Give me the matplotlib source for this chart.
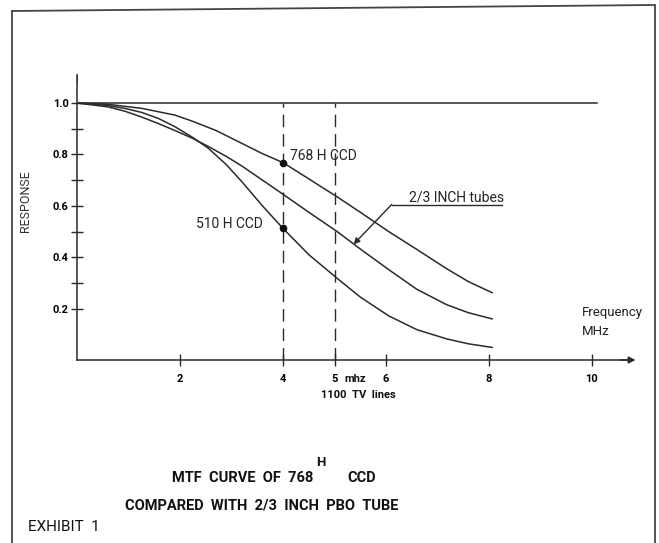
import matplotlib
matplotlib.use("Agg")
import matplotlib.pyplot as plt
from matplotlib.lines import Line2D
from matplotlib.ticker import FixedLocator

plt.rcParams['font.family'] = ['Roboto', 'DejaVu Sans']

# ---- data ----
ccd768_x = [0, 0.6, 1.26, 1.9, 2.23, 2.7, 3.2, 3.6, 4.0, 4.5, 5.05, 5.5, 6.05, 6.6, 7.18, 7.6, 8.06]
ccd768_y = [1.0, 0.995, 0.979, 0.953, 0.93, 0.893, 0.843, 0.803, 0.768, 0.705, 0.635, 0.575, 0.50, 0.43, 0.355, 0.305, 0.262]

tube_x = [0, 0.6, 0.93, 1.26, 1.58, 1.9, 2.23, 2.55, 2.9, 3.2, 3.6, 4.0, 4.5, 5.05, 5.5, 6.05, 6.6, 7.18, 7.6, 8.06]
tube_y = [1.0, 0.985, 0.968, 0.945, 0.92, 0.893, 0.864, 0.831, 0.792, 0.755, 0.70, 0.645, 0.575, 0.50, 0.432, 0.352, 0.275, 0.215, 0.184, 0.16]

ccd510_x = [0, 0.6, 0.93, 1.26, 1.58, 1.9, 2.23, 2.55, 2.9, 3.2, 3.6, 4.0, 4.5, 5.05, 5.5, 6.05, 6.6, 7.18, 7.6, 8.06]
ccd510_y = [1.0, 0.99, 0.979, 0.963, 0.94, 0.908, 0.868, 0.824, 0.76, 0.694, 0.60, 0.512, 0.41, 0.318, 0.245, 0.172, 0.118, 0.082, 0.063, 0.049]

marker_x = [4, 4]
marker_y = [0.768, 0.512]

dashed_x = [4, 5]
reference_level = 1.0

x_ticks = [2, 4, 5, 6, 8, 10]
x_tick_labels = ["2", "4", "5", "6", "8", "10"]
y_ticks = [0.2, 0.4, 0.6, 0.8, 1.0]
y_tick_labels = ["0.2", "0.4", "0.6", "0.8", "1.0"]
y_minor_ticks = [0.3, 0.5, 0.7, 0.9]

W, H = 659, 543
fig = plt.figure(figsize=(W / 100, H / 100), dpi=100)
fig.patch.set_facecolor('white')

# axes placement: x=0 at px 77, 51.5 px per MHz; y=0 at px 360, 257 px per unit
x0, xs = 77, 51.5
y0, ys = 360, 257
xmax, ymax = 11.0, 1.2
ax = fig.add_axes([x0 / W, (H - y0) / H, xmax * xs / W, ymax * ys / H])
ax.set_xlim(0, xmax)
ax.set_ylim(0, ymax)
ax.patch.set_alpha(0)

ink = '#2a2a2a'
for s in ['top', 'right']:
    ax.spines[s].set_visible(False)
ax.spines['left'].set_bounds(0, 1.11)
ax.spines['bottom'].set_bounds(0, 10.7)
for s in ['left', 'bottom']:
    ax.spines[s].set_color(ink)
    ax.spines[s].set_linewidth(1.1)

# arrow at end of x axis
ax.annotate('', xy=(10.9, 0), xytext=(10.5, 0),
            arrowprops=dict(arrowstyle='-|>', color=ink, lw=1.1, mutation_scale=10),
            annotation_clip=False)
# small tick at the top of y axis
ax.plot([0, 0], [1.08, 1.11], color=ink, lw=1.1)

ax.xaxis.set_major_locator(FixedLocator(x_ticks))
ax.set_xticklabels(x_tick_labels, fontsize=8, fontweight='bold')
ax.yaxis.set_major_locator(FixedLocator(y_ticks))
ax.set_yticklabels(y_tick_labels, fontsize=8, fontweight='bold')
ax.yaxis.set_minor_locator(FixedLocator(y_minor_ticks))
ax.tick_params(axis='both', which='both', direction='inout', color=ink, width=1.0)
ax.tick_params(axis='x', which='major', length=8, pad=6)
ax.tick_params(axis='y', which='major', length=8, pad=2)
ax.tick_params(axis='y', which='minor', length=8)

# reference line at 1.0
ax.plot([0, 10.1], [reference_level, reference_level], color=ink, lw=1.1)

# dashed verticals
for xv in dashed_x:
    ax.plot([xv, xv], [0, reference_level], color=ink, lw=1.0,
            dashes=(9, 5))

# curves
for xs_, ys_ in [(ccd768_x, ccd768_y), (tube_x, tube_y), (ccd510_x, ccd510_y)]:
    ax.plot(xs_, ys_, color=ink, lw=1.1, solid_joinstyle='round')

ax.plot(marker_x, marker_y, 'o', color='#111111', ms=4.5)

# annotations
txt = '#222222'
ax.text(4.13, 0.795, '768 H CCD', fontsize=10, color=txt, va='center', ha='left')
ax.text(3.60, 0.530, '510 H CCD', fontsize=10, color=txt, va='center', ha='right')
ax.text(6.45, 0.632, '2/3 INCH tubes', fontsize=10, color=txt, va='center', ha='left')
ax.plot([6.11, 8.25], [0.605, 0.605], color=ink, lw=1.0)
ax.annotate('', xy=(5.37, 0.45), xytext=(6.11, 0.605),
            arrowprops=dict(arrowstyle='-|>', color=ink, lw=1.0, mutation_scale=9,
                            shrinkA=0, shrinkB=0))

ax.text(9.8, 0.183, 'Frequency', fontsize=9.5, color=txt, va='center', ha='left')
ax.text(9.8, 0.11, 'MHz', fontsize=9.5, color=txt, va='center', ha='left')

ax.text(5.2, -0.073, 'mhz', fontsize=8, fontweight='bold', color='#111111',
        va='center', ha='left')
ax.text(5.47, -0.137, '1100  TV  lines', fontsize=8, fontweight='bold', color='#111111',
        va='center', ha='center')

ax.text(-1.0, 0.62, 'RESPONSE', fontsize=9, rotation=90, color='#333333',
        va='center', ha='center')

# title block (figure pixel coordinates)
def fx(px):
    return px / W

def fy(py):
    return 1 - py / H

dark = '#111111'
fig.text(fx(313), fy(478), 'MTF  CURVE  OF  768', fontsize=10.5, fontweight='bold',
         ha='right', va='center', color=dark)
fig.text(fx(321), fy(462), 'H', fontsize=9.5, fontweight='bold',
         ha='center', va='center', color=dark)
fig.text(fx(347), fy(478), 'CCD', fontsize=10.5, fontweight='bold',
         ha='left', va='center', color=dark)
fig.text(fx(262), fy(505), 'COMPARED  WITH  2/3  INCH  PBO  TUBE', fontsize=10.5,
         fontweight='bold', ha='center', va='center', color=dark)
fig.text(fx(28), fy(527), 'EXHIBIT  1', fontsize=11, ha='left', va='center',
         color=dark)

# frame border
border = '#444444'
fig.add_artist(Line2D([fx(12), fx(12)], [fy(543), fy(11)], color=border, lw=1.3))
fig.add_artist(Line2D([fx(12), fx(654)], [fy(11), fy(5)], color=border, lw=1.3))
fig.add_artist(Line2D([fx(655), fx(655)], [fy(5), fy(543)], color=border, lw=1.3))

fig.savefig('out.png', dpi=100, facecolor='white')
